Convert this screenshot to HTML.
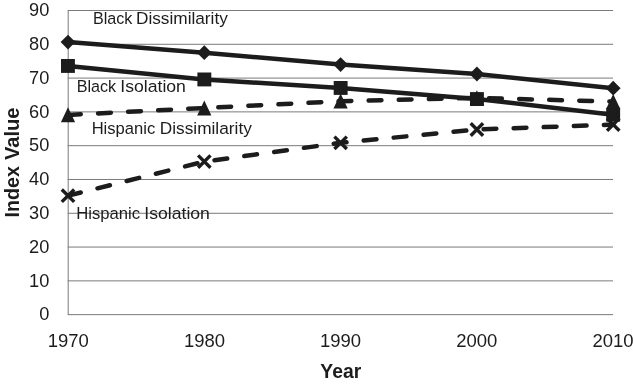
<!DOCTYPE html>
<html><head><meta charset="utf-8"><title>Chart</title><style>html,body{margin:0;padding:0;background:#fff}</style></head><body>
<svg width="633" height="385" viewBox="0 0 633 385" style="display:block">
<rect width="633" height="385" fill="#fff"/>
<line x1="67.7" y1="10.50" x2="613.0" y2="10.50" stroke="#7a7a7a" stroke-width="1"/>
<line x1="67.7" y1="44.29" x2="613.0" y2="44.29" stroke="#7a7a7a" stroke-width="1"/>
<line x1="67.7" y1="78.09" x2="613.0" y2="78.09" stroke="#7a7a7a" stroke-width="1"/>
<line x1="67.7" y1="111.88" x2="613.0" y2="111.88" stroke="#7a7a7a" stroke-width="1"/>
<line x1="67.7" y1="145.68" x2="613.0" y2="145.68" stroke="#7a7a7a" stroke-width="1"/>
<line x1="67.7" y1="179.47" x2="613.0" y2="179.47" stroke="#7a7a7a" stroke-width="1"/>
<line x1="67.7" y1="213.27" x2="613.0" y2="213.27" stroke="#7a7a7a" stroke-width="1"/>
<line x1="67.7" y1="247.06" x2="613.0" y2="247.06" stroke="#7a7a7a" stroke-width="1"/>
<line x1="67.7" y1="280.86" x2="613.0" y2="280.86" stroke="#7a7a7a" stroke-width="1"/>
<line x1="67.7" y1="314.65" x2="613.0" y2="314.65" stroke="#7a7a7a" stroke-width="1"/>
<line x1="68.2" y1="10.5" x2="68.2" y2="314.65" stroke="#7a7a7a" stroke-width="1"/>
<g font-family="'Liberation Sans', sans-serif" font-size="18.2" fill="#1c1c1c">
<text x="49.3" y="16.30" text-anchor="end">90</text>
<text x="49.3" y="50.09" text-anchor="end">80</text>
<text x="49.3" y="83.89" text-anchor="end">70</text>
<text x="49.3" y="117.68" text-anchor="end">60</text>
<text x="49.3" y="151.48" text-anchor="end">50</text>
<text x="49.3" y="185.27" text-anchor="end">40</text>
<text x="49.3" y="219.07" text-anchor="end">30</text>
<text x="49.3" y="252.86" text-anchor="end">20</text>
<text x="49.3" y="286.66" text-anchor="end">10</text>
<text x="49.3" y="320.45" text-anchor="end">0</text>
<text x="47.70" y="346.6" textLength="41.12" lengthAdjust="spacingAndGlyphs">1970</text>
<text x="183.90" y="346.6" textLength="41.12" lengthAdjust="spacingAndGlyphs">1980</text>
<text x="320.00" y="346.6" textLength="41.12" lengthAdjust="spacingAndGlyphs">1990</text>
<text x="456.23" y="346.6" textLength="41.14" lengthAdjust="spacingAndGlyphs">2000</text>
<text x="592.53" y="346.6" textLength="41.14" lengthAdjust="spacingAndGlyphs">2010</text>
</g>
<polyline points="68.0,42.1 204.3,52.7 340.6,64.6 476.9,74.0 613.2,88.2" fill="none" stroke="#1c1c1c" stroke-width="4.5" stroke-linejoin="round"/>
<polyline points="68.0,66.0 204.3,79.4 340.6,88.0 476.9,99.0 613.2,114.8" fill="none" stroke="#1c1c1c" stroke-width="4.5" stroke-linejoin="round"/>
<polyline points="68.0,114.9 204.3,108.0 340.6,101.2 476.9,97.9 613.2,101.6" fill="none" stroke="#1c1c1c" stroke-width="4.5" stroke-linecap="round" stroke-dasharray="12.8 17.3"/>
<polyline points="68.0,195.7 204.3,161.6 340.6,142.8 476.9,129.5 613.2,124.6" fill="none" stroke="#1c1c1c" stroke-width="4.5" stroke-linecap="round" stroke-dasharray="12.8 17.3" stroke-dashoffset="-0.3"/>
<path d="M60.6 42.1L68.0 34.7L75.4 42.1L68.0 49.5Z" fill="#1c1c1c"/>
<path d="M196.9 52.7L204.3 45.3L211.7 52.7L204.3 60.1Z" fill="#1c1c1c"/>
<path d="M333.2 64.6L340.6 57.2L348.0 64.6L340.6 72.0Z" fill="#1c1c1c"/>
<path d="M469.5 74.0L476.9 66.6L484.3 74.0L476.9 81.4Z" fill="#1c1c1c"/>
<path d="M605.8 88.2L613.2 80.8L620.6 88.2L613.2 95.6Z" fill="#1c1c1c"/>
<rect x="61.0" y="59.0" width="13.9" height="13.9" fill="#1c1c1c"/>
<rect x="197.4" y="72.5" width="13.9" height="13.9" fill="#1c1c1c"/>
<rect x="333.7" y="81.0" width="13.9" height="13.9" fill="#1c1c1c"/>
<rect x="470.0" y="92.1" width="13.9" height="13.9" fill="#1c1c1c"/>
<rect x="606.2" y="107.8" width="13.9" height="13.9" fill="#1c1c1c"/>
<path d="M60.9 122.3L68.0 107.3L75.1 122.3Z" fill="#1c1c1c"/>
<path d="M197.2 115.4L204.3 100.4L211.4 115.4Z" fill="#1c1c1c"/>
<path d="M333.5 108.6L340.6 93.6L347.7 108.6Z" fill="#1c1c1c"/>
<path d="M469.8 105.3L476.9 90.3L484.0 105.3Z" fill="#1c1c1c"/>
<path d="M606.1 109.0L613.2 94.0L620.3 109.0Z" fill="#1c1c1c"/>
<path d="M61.8 189.5L74.2 201.9M61.8 201.9L74.2 189.5" stroke="#1c1c1c" stroke-width="3.4" fill="none"/>
<path d="M198.1 155.4L210.5 167.8M198.1 167.8L210.5 155.4" stroke="#1c1c1c" stroke-width="3.4" fill="none"/>
<path d="M334.4 136.6L346.8 149.0M334.4 149.0L346.8 136.6" stroke="#1c1c1c" stroke-width="3.4" fill="none"/>
<path d="M470.7 123.3L483.1 135.7M470.7 135.7L483.1 123.3" stroke="#1c1c1c" stroke-width="3.4" fill="none"/>
<path d="M607.0 118.4L619.4 130.8M607.0 130.8L619.4 118.4" stroke="#1c1c1c" stroke-width="3.4" fill="none"/>
<g font-family="'Liberation Sans', sans-serif" font-size="16.8" fill="#1c1c1c">
<text x="92.88" y="24.0" textLength="39.50" lengthAdjust="spacingAndGlyphs">Black</text>
<text x="135.99" y="24.0" textLength="91.85" lengthAdjust="spacingAndGlyphs">Dissimilarity</text>
<text x="76.68" y="92.1" textLength="39.50" lengthAdjust="spacingAndGlyphs">Black</text>
<text x="120.28" y="92.1" textLength="65.66" lengthAdjust="spacingAndGlyphs">Isolation</text>
<text x="91.64" y="134.4" textLength="63.59" lengthAdjust="spacingAndGlyphs">Hispanic</text>
<text x="159.78" y="134.4" textLength="92.05" lengthAdjust="spacingAndGlyphs">Dissimilarity</text>
<text x="76.23" y="219.1" textLength="63.90" lengthAdjust="spacingAndGlyphs">Hispanic</text>
<text x="144.28" y="219.1" textLength="65.66" lengthAdjust="spacingAndGlyphs">Isolation</text>
</g>
<g font-family="'Liberation Sans', sans-serif" font-weight="bold" fill="#1c1c1c">
<text x="320.37" y="377.7" font-size="20.0" textLength="40.91" lengthAdjust="spacingAndGlyphs">Year</text>
<text transform="translate(18.7,216.25) rotate(-90)" x="-1.30" y="0" font-size="20.8" textLength="51.43" lengthAdjust="spacingAndGlyphs">Index</text>
<text transform="translate(18.7,160.0) rotate(-90)" x="-0.12" y="0" font-size="20.8" textLength="52.70" lengthAdjust="spacingAndGlyphs">Value</text>
</g>
</svg>
</body></html>
